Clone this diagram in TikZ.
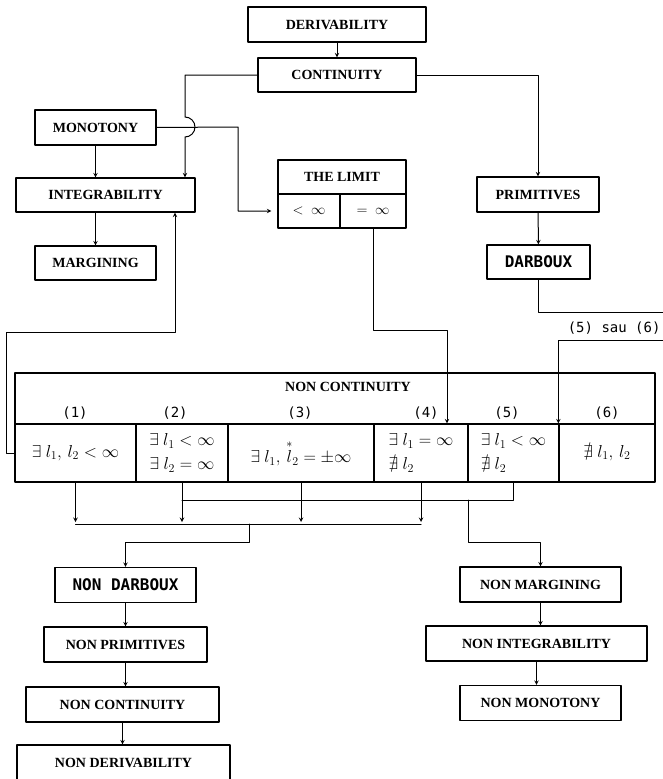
\documentclass[tikz,border=0pt]{standalone}
\usepackage{amsmath,amssymb}
\usepackage{fontspec}
\setmainfont{Liberation Serif}
\newfontfamily\dotfont{DejaVu Sans Mono}
\tikzset{
  box/.style={draw, line width=1.2pt, minimum height=35pt, inner sep=0pt, font=\fontsize{14}{16}\selectfont\bfseries},
  dotbox/.style={box, font=\fontsize{16}{18}\selectfont\dotfont\bfseries},
  cell/.style={draw, line width=1.2pt, minimum height=58pt, inner sep=0pt, align=center, font=\LARGE},
  lab/.style={font=\fontsize{14}{16}\selectfont\dotfont, inner sep=1pt},
}
\begin{document}
\begin{tikzpicture}[x=1pt, y=-1pt, line width=1pt, >=stealth, line join=round, line cap=round]
\useasboundingbox (0,0) rectangle (663,779);
% upper part
\node[box, minimum width=178pt] (deriv) at (337,24.5) {DERIVABILITY};
\node[box, minimum width=158pt, minimum height=34pt] (cont) at (337,75) {CONTINUITY};
\node[box, minimum width=121pt] (mono) at (95.5,127.5) {MONOTONY};
\node[box, minimum width=179pt, minimum height=34pt] (integ) at (105.5,195) {INTEGRABILITY};
\node[box, minimum width=121pt, minimum height=34pt] (marg) at (95.5,263) {MARGINING};
\node[box, minimum width=128pt, minimum height=34pt] (limit) at (342,177) {THE LIMIT};
\node[box, minimum width=62pt, minimum height=34pt, font=\Large] (lleft) at (309,211) {$<\ \infty$};
\node[box, minimum width=66pt, minimum height=34pt, font=\Large] (lright) at (373,211) {$=\ \infty$};
\node[box, minimum width=122pt] (prim) at (538,194.5) {PRIMITIVES};
\node[dotbox, minimum width=103pt, minimum height=34pt] (darb) at (538.5,262) {DARBOUX};
% table of non continuity
\node[draw, line width=1.2pt, minimum width=640pt, minimum height=51pt, inner sep=0pt] (hdr) at (335,398.5) {};
\node[font=\fontsize{14}{16}\selectfont\bfseries] (title) at (348,387) {NON CONTINUITY};
\foreach \i/\x in {1/75,2/175,3/300,4/426,5/507,6/607}
  \node[lab] (n\i) at (\x,413) {(\i)};
\node[cell, minimum width=121pt] (c1) at (75.5,453) {$\exists\ l_1,\, l_2 < \infty$};
\node[cell, minimum width=92pt] (c2) at (182,453) {$\exists\ l_1 < \infty$\\[2pt] $\exists\ l_2 = \infty$};
\node[cell, minimum width=146pt] (c3) at (301,453) {$\exists\ l_1,\, \overset{*}{l}_2 = \pm\infty$};
\node[cell, minimum width=94pt] (c4) at (421,453) {$\exists\ l_1 = \infty$\\[2pt] $\nexists\ l_2$\hphantom{${}=\infty$}};
\node[cell, minimum width=91pt] (c5) at (513.5,453) {$\exists\ l_1 < \infty$\\[2pt] $\nexists\ l_2$\hphantom{${}<\infty$}};
\node[cell, minimum width=96pt] (c6) at (607,453) {$\nexists\ l_1,\, l_2$};
\node[lab, anchor=east] (sau) at (662,328) {(5) sau (6)};
% lower part
\node[dotbox, minimum width=141pt] (ndarb) at (125.5,585) {NON DARBOUX};
\node[box, minimum width=163pt] (nprim) at (125.5,644.5) {NON PRIMITIVES};
\node[box, minimum width=193pt] (ncont) at (122.5,704.5) {NON CONTINUITY};
\node[box, minimum width=213pt] (nderiv) at (123.5,762.5) {NON DERIVABILITY};
\node[box, minimum width=161pt] (nmarg) at (540.5,584.5) {NON MARGINING};
\node[box, minimum width=221pt] (ninteg) at (536.5,643.5) {NON INTEGRABILITY};
\node[box, minimum width=161pt] (nmono) at (540.5,703) {NON MONOTONY};
% connectors
\draw[->] (deriv) -- (cont);
\draw[->] (cont.west) -- (185,75) -- (185,117) arc[start angle=90, end angle=-90, radius=10pt] -- (185,0 |- integ.north);
\draw[->] (mono.south) -- (mono.south |- integ.north);
\draw[->] (integ.south -| marg.north) -- (marg.north);
\draw[->, shorten >=6pt] (mono.east) -- (238,127) |- (lleft.west);
\draw[->] (cont.east) -| (prim.north);
\draw[->] (prim) -- (darb);
\coordinate (edge1) at (663,312);
\coordinate (edge2) at (663,340);
\draw (darb.south) |- (edge1);
\draw[->] (edge2) -| (c6.north west);
\coordinate (bend4) at (447,330);
\draw[->] (lright.south) |- (bend4) -- (bend4 |- c4.north);
\coordinate (loop) at (6,332);
\draw[->] (c1.west) -| (loop) -| (175,0 |- integ.south);
\foreach \c in {c1,c2,c3,c4}
  \draw[->] (\c.south) -- (\c.south |- 0,522);
\draw (c5.south) -- (c5.south |- 0,500) -- (c2.south |- 0,500);
\draw (c1.south |- 0,524) -- (c4.south |- 0,524);
\coordinate (j1) at (249,524);
\coordinate (j2) at (468,500);
\draw[->] (j1) -- (249,542) -| (ndarb.north);
\draw[->] (j2) -- (468,542) -| (nmarg.north);
\draw[->] (ndarb) -- (ndarb.south |- nprim.north);
\draw[->] (nprim) -- (nprim.south |- ncont.north);
\draw[->] (ncont) -- (ncont.south |- nderiv.north);
\draw[->] (nmarg) -- (nmarg.south |- ninteg.north);
\draw[->] (ninteg) -- (ninteg.south |- nmono.north);
\end{tikzpicture}
\end{document}
